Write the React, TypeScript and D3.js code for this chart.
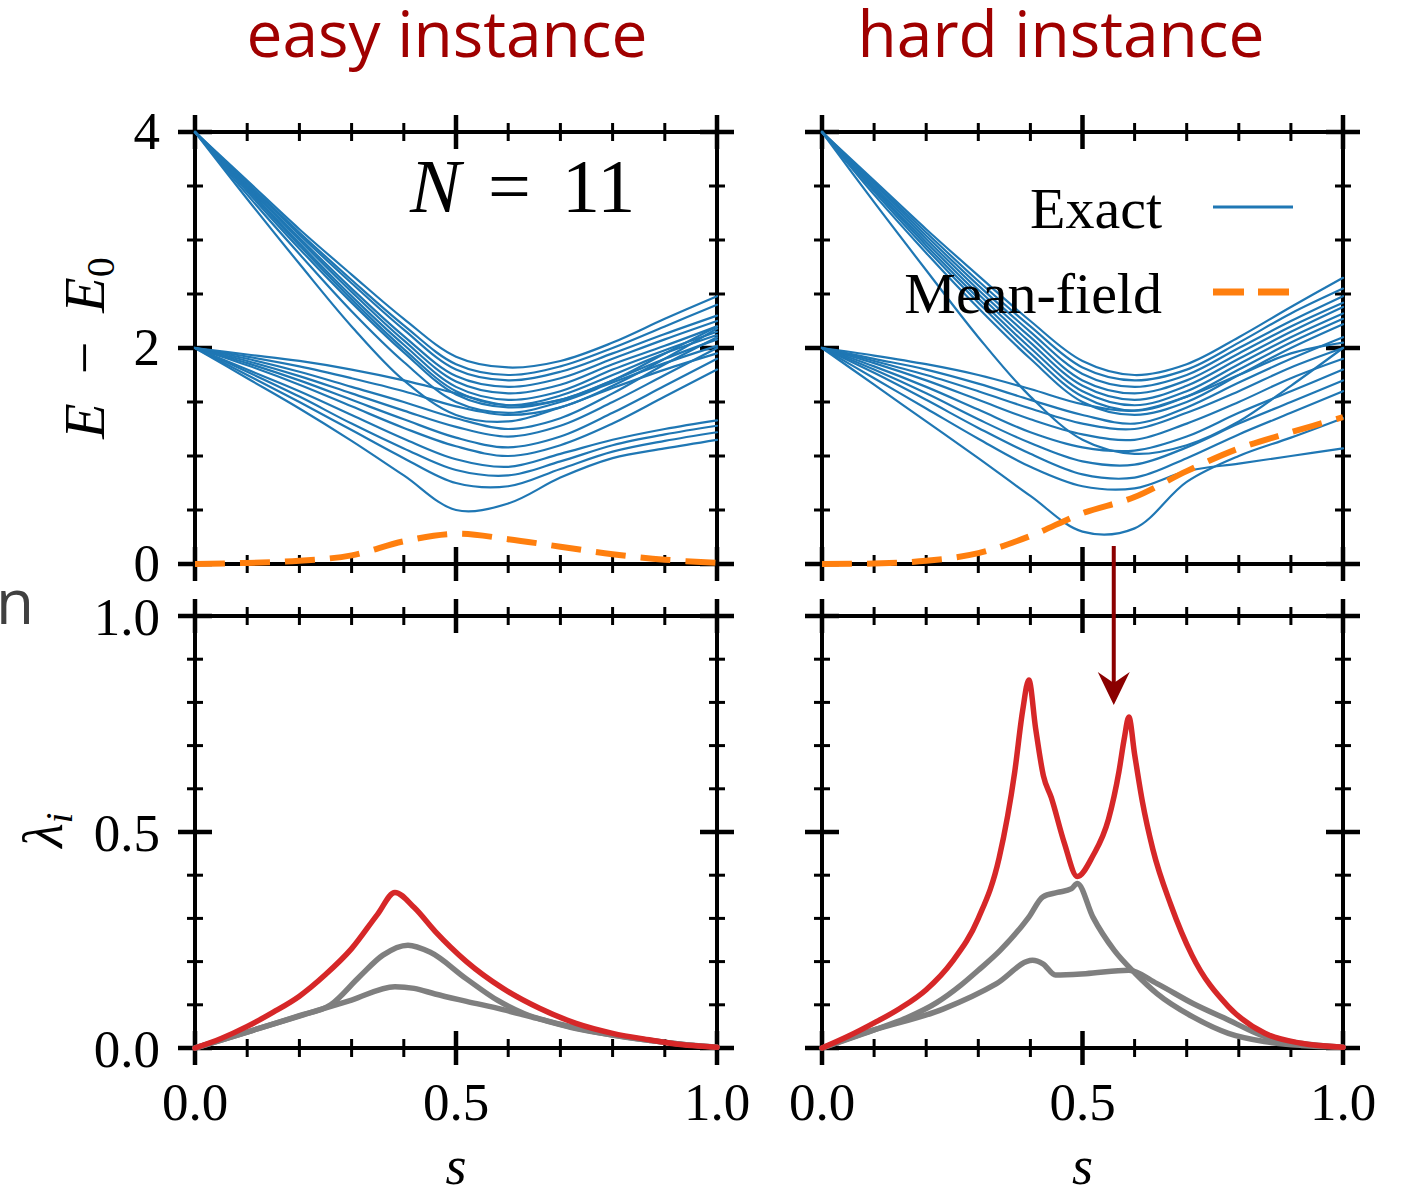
import React, { useEffect, useRef } from "react";
import * as d3 from "d3";

// energy spectra, sampled on sGrid
const sGrid = [0, 0.1, 0.2, 0.3, 0.4, 0.5, 0.6, 0.7, 0.8, 0.9, 1.0];

const easyUpper = [
  [4, 3.55, 3.1, 2.68, 2.27, 1.92, 1.82, 1.88, 2.05, 2.27, 2.48],
  [4, 3.53, 3.07, 2.63, 2.21, 1.85, 1.75, 1.83, 2.0, 2.2, 2.4],
  [4, 3.52, 3.05, 2.6, 2.17, 1.8, 1.7, 1.78, 1.95, 2.13, 2.3],
  [4, 3.5, 3.02, 2.55, 2.11, 1.74, 1.64, 1.72, 1.9, 2.08, 2.25],
  [4, 3.5, 3.0, 2.52, 2.07, 1.69, 1.58, 1.66, 1.85, 2.02, 2.2],
  [4, 3.48, 2.97, 2.48, 2.03, 1.64, 1.52, 1.6, 1.8, 1.98, 2.15],
  [4, 3.47, 2.95, 2.45, 1.99, 1.6, 1.47, 1.56, 1.75, 1.95, 2.12],
  [4, 3.45, 2.92, 2.42, 1.96, 1.57, 1.45, 1.52, 1.7, 1.9, 2.08],
  [4, 3.42, 2.87, 2.34, 1.87, 1.5, 1.4, 1.5, 1.68, 1.86, 2.02],
  [4, 3.38, 2.78, 2.2, 1.7, 1.38, 1.32, 1.45, 1.63, 1.8, 1.95],
];

const easyLower = [
  [2, 1.72, 1.44, 1.14, 0.82, 0.5, 0.56, 0.8, 0.98, 1.07, 1.15],
  [2, 1.75, 1.5, 1.24, 0.98, 0.75, 0.72, 0.88, 1.04, 1.14, 1.22],
  [2, 1.78, 1.55, 1.3, 1.07, 0.87, 0.82, 0.95, 1.1, 1.2, 1.28],
  [2, 1.8, 1.6, 1.38, 1.16, 0.97, 0.9, 1.02, 1.15, 1.25, 1.33],
  [2, 1.84, 1.66, 1.46, 1.26, 1.09, 1.0, 1.1, 1.3, 1.55, 1.8],
  [2, 1.86, 1.7, 1.52, 1.34, 1.17, 1.08, 1.18, 1.4, 1.65, 1.9],
  [2, 1.88, 1.74, 1.58, 1.42, 1.27, 1.18, 1.28, 1.5, 1.75, 2.0],
  [2, 1.9, 1.78, 1.64, 1.5, 1.35, 1.25, 1.35, 1.58, 1.85, 2.1],
  [2, 1.92, 1.83, 1.72, 1.6, 1.46, 1.38, 1.45, 1.65, 1.9, 2.18],
  [2, 1.94, 1.88, 1.8, 1.7, 1.58, 1.47, 1.52, 1.7, 1.95, 2.2],
];

const easyMeanField = [0, 0.01, 0.03, 0.08, 0.21, 0.28, 0.23, 0.16, 0.09, 0.04, 0.01];

const hardUpper = [
  [4, 3.55, 3.1, 2.67, 2.25, 1.88, 1.75, 1.85, 2.1, 2.38, 2.65],
  [4, 3.53, 3.07, 2.62, 2.2, 1.82, 1.7, 1.8, 2.05, 2.32, 2.55],
  [4, 3.52, 3.04, 2.58, 2.15, 1.76, 1.64, 1.75, 2.0, 2.25, 2.48],
  [4, 3.5, 3.01, 2.54, 2.1, 1.7, 1.58, 1.7, 1.95, 2.2, 2.42],
  [4, 3.48, 2.98, 2.5, 2.05, 1.65, 1.52, 1.65, 1.9, 2.15, 2.38],
  [4, 3.47, 2.95, 2.46, 2.0, 1.6, 1.47, 1.6, 1.85, 2.1, 2.32],
  [4, 3.45, 2.92, 2.42, 1.95, 1.55, 1.42, 1.55, 1.8, 2.05, 2.27],
  [4, 3.42, 2.88, 2.37, 1.9, 1.5, 1.38, 1.5, 1.75, 2.0, 2.22],
  [4, 3.35, 2.72, 2.1, 1.55, 1.15, 1.02, 1.1, 1.32, 1.65, 2.0],
];

const hardLower = [
  [2, 1.66, 1.32, 0.98, 0.63, 0.3, 0.33, 0.76, 1.0, 1.17, 1.35],
  [2, 1.72, 1.44, 1.16, 0.9, 0.72, 0.7, 0.86, 0.93, 1.0, 1.07],
  [2, 1.77, 1.52, 1.26, 1.02, 0.83, 0.8, 0.98, 1.2, 1.4, 1.6],
  [2, 1.8, 1.58, 1.34, 1.12, 0.95, 0.92, 1.08, 1.3, 1.5, 1.7],
  [2, 1.83, 1.64, 1.43, 1.22, 1.08, 1.05, 1.18, 1.4, 1.6, 1.8],
  [2, 1.86, 1.7, 1.52, 1.34, 1.2, 1.15, 1.3, 1.5, 1.72, 1.9],
  [2, 1.88, 1.75, 1.6, 1.44, 1.3, 1.25, 1.4, 1.6, 1.82, 2.0],
  [2, 1.9, 1.8, 1.67, 1.52, 1.38, 1.3, 1.45, 1.68, 1.9, 2.1],
  [2, 1.93, 1.85, 1.75, 1.62, 1.48, 1.42, 1.55, 1.75, 1.95, 2.05],
];

const hardMeanField = [0, 0.005, 0.03, 0.1, 0.26, 0.47, 0.62, 0.86, 1.07, 1.22, 1.36];

// eigenvalues lambda_i, each with its own s samples
const easyRedS = [0, 0.05, 0.1, 0.15, 0.2, 0.25, 0.3, 0.35, 0.383, 0.42, 0.46, 0.52, 0.59, 0.66, 0.73, 0.8, 0.87, 0.93, 1];
const easyRed = [0, 0.022, 0.05, 0.083, 0.12, 0.17, 0.23, 0.31, 0.36, 0.325, 0.27, 0.2, 0.138, 0.092, 0.057, 0.034, 0.019, 0.008, 0.002];
const easyGrayAS = [0, 0.1, 0.2, 0.26, 0.315, 0.36, 0.408, 0.45, 0.52, 0.58, 0.63, 0.7, 0.8, 0.9, 1];
const easyGrayA = [0, 0.037, 0.075, 0.1, 0.165, 0.215, 0.238, 0.222, 0.16, 0.11, 0.08, 0.055, 0.03, 0.013, 0.002];
const easyGrayBS = [0, 0.1, 0.2, 0.3, 0.383, 0.42, 0.46, 0.52, 0.59, 0.66, 0.73, 0.8, 0.87, 0.93, 1];
const easyGrayB = [0, 0.037, 0.074, 0.111, 0.142, 0.138, 0.125, 0.108, 0.089, 0.067, 0.045, 0.03, 0.018, 0.009, 0.002];

const hardRedS = [0, 0.05, 0.1, 0.15, 0.2, 0.25, 0.3, 0.34, 0.37, 0.385, 0.397, 0.41, 0.425, 0.44, 0.465, 0.49, 0.52, 0.55, 0.57, 0.58, 0.589, 0.6, 0.615, 0.635, 0.67, 0.71, 0.78, 0.85, 0.92, 1];
const hardRed = [0, 0.027, 0.058, 0.092, 0.135, 0.2, 0.3, 0.44, 0.64, 0.78, 0.852, 0.74, 0.63, 0.58, 0.475, 0.397, 0.445, 0.53, 0.64, 0.715, 0.766, 0.68, 0.57, 0.46, 0.33, 0.215, 0.096, 0.034, 0.011, 0.002];
const hardGrayAS = [0, 0.1, 0.163, 0.22, 0.266, 0.3, 0.342, 0.397, 0.424, 0.452, 0.479, 0.49, 0.52, 0.561, 0.602, 0.643, 0.712, 0.78, 0.849, 0.92, 1];
const hardGrayA = [0, 0.042, 0.07, 0.105, 0.145, 0.18, 0.226, 0.303, 0.35, 0.36, 0.369, 0.381, 0.303, 0.226, 0.172, 0.126, 0.072, 0.034, 0.015, 0.006, 0.002];
const hardGrayBS = [0, 0.095, 0.232, 0.335, 0.404, 0.424, 0.448, 0.506, 0.589, 0.643, 0.712, 0.78, 0.849, 0.917, 1];
const hardGrayB = [0, 0.04, 0.09, 0.149, 0.203, 0.195, 0.169, 0.172, 0.18, 0.149, 0.103, 0.065, 0.027, 0.011, 0.002];

const xTickLabels = ["0.0", "0.5", "1.0"];
const energyTickLabels = ["0", "2", "4"];
const lambdaTickLabels = ["0.0", "0.5", "1.0"];

const BLUE = "#1f77b4";
const ORANGE = "#ff7f0e";
const RED = "#d62728";
const GRAY = "#7f7f7f";
const TITLE = "#a00000";
const SERIF = "'Liberation Serif', 'Times New Roman', serif";
const SANS = "'Open Sans', 'Noto Sans', sans-serif";

const App = () => {
  const chart = useRef<SVGSVGElement>(null);

  useEffect(() => {
    const svg = d3.select(chart.current);
    svg.selectAll("*").remove();

    const xLeft = d3.scaleLinear().domain([0, 1]).range([195, 717]);
    const xRight = d3.scaleLinear().domain([0, 1]).range([822, 1343]);
    const yEnergy = d3.scaleLinear().domain([0, 4]).range([564, 132]);
    const yLambda = d3.scaleLinear().domain([0, 1]).range([1048, 616]);

    const xMinor = d3.range(0, 1.0001, 0.1);
    const xMajor = [0, 0.5, 1];

    // box with inout ticks on all four sides
    const frame = (x, y, yMinor, yMajor) => {
      const g = svg.append("g");
      const [x0, x1] = x.range();
      const [y0, y1] = y.range();
      const isMajor = (v, majors) => majors.some((m) => Math.abs(m - v) < 1e-6);
      xMinor.forEach((v) => {
        const big = isMajor(v, xMajor);
        const h = big ? 17 : 9;
        [y0, y1].forEach((yy) => {
          g.append("line")
            .attr("x1", x(v)).attr("x2", x(v))
            .attr("y1", yy - h).attr("y2", yy + h)
            .attr("stroke", "#000").attr("stroke-width", big ? 4.5 : 3);
        });
      });
      yMinor.forEach((v) => {
        const big = isMajor(v, yMajor);
        const h = big ? 17 : 8;
        [x0, x1].forEach((xx) => {
          g.append("line")
            .attr("y1", y(v)).attr("y2", y(v))
            .attr("x1", xx - h).attr("x2", xx + h)
            .attr("stroke", "#000").attr("stroke-width", big ? 4.5 : 3);
        });
      });
      g.append("rect")
        .attr("x", x0).attr("y", y1)
        .attr("width", x1 - x0).attr("height", y0 - y1)
        .attr("fill", "none").attr("stroke", "#000").attr("stroke-width", 4);
    };

    const drawLine = (x, y, xs, ys, color, width, curve, dash?) => {
      const line = d3
        .line<number>()
        .x((d, i) => x(xs[i]))
        .y((d) => y(d))
        .curve(curve);
      const p = svg.append("path")
        .attr("d", line(ys))
        .attr("fill", "none")
        .attr("stroke", color)
        .attr("stroke-width", width)
        .attr("stroke-linejoin", "round")
        .attr("stroke-linecap", dash ? "butt" : "round");
      if (dash) p.attr("stroke-dasharray", dash);
    };

    const smooth = d3.curveCatmullRom.alpha(0.5);
    const eMinor = d3.range(0, 4.0001, 0.5);
    const lMinor = d3.range(0, 1.0001, 0.1);

    frame(xLeft, yEnergy, eMinor, [0, 2, 4]);
    frame(xRight, yEnergy, eMinor, [0, 2, 4]);
    frame(xLeft, yLambda, lMinor, [0, 0.5, 1]);
    frame(xRight, yLambda, lMinor, [0, 0.5, 1]);

    // energy levels
    [...easyUpper, ...easyLower].forEach((ys) => drawLine(xLeft, yEnergy, sGrid, ys, BLUE, 2.2, smooth));
    drawLine(xLeft, yEnergy, sGrid, easyMeanField, ORANGE, 6, smooth, "30 15");
    [...hardUpper, ...hardLower].forEach((ys) => drawLine(xRight, yEnergy, sGrid, ys, BLUE, 2.2, smooth));
    drawLine(xRight, yEnergy, sGrid, hardMeanField, ORANGE, 6, smooth, "30 15");

    // lambda_i
    const mono = d3.curveMonotoneX;
    drawLine(xLeft, yLambda, easyGrayBS, easyGrayB, GRAY, 5.5, mono);
    drawLine(xLeft, yLambda, easyGrayAS, easyGrayA, GRAY, 5.5, mono);
    drawLine(xLeft, yLambda, easyRedS, easyRed, RED, 5.5, mono);
    drawLine(xRight, yLambda, hardGrayBS, hardGrayB, GRAY, 5.5, mono);
    drawLine(xRight, yLambda, hardGrayAS, hardGrayA, GRAY, 5.5, mono);
    drawLine(xRight, yLambda, hardRedS, hardRed, RED, 5.5, mono);

    // tick labels
    const tickText = (x, y, txt, anchor) =>
      svg.append("text")
        .attr("x", x).attr("y", y)
        .attr("text-anchor", anchor)
        .attr("font-family", SERIF)
        .attr("font-size", 53)
        .attr("fill", "#000")
        .text(txt);

    [0, 2, 4].forEach((v, i) => tickText(160, yEnergy(v) + 17, energyTickLabels[i], "end"));
    [0, 0.5, 1].forEach((v, i) => tickText(160, yLambda(v) + 19, lambdaTickLabels[i], "end"));
    xMajor.forEach((v, i) => {
      tickText(xLeft(v), 1120, xTickLabels[i], "middle");
      tickText(xRight(v), 1120, xTickLabels[i], "middle");
    });

    // axis labels
    [xLeft, xRight].forEach((x) => {
      svg.append("text")
        .attr("x", x(0.5)).attr("y", 1184)
        .attr("text-anchor", "middle")
        .attr("font-family", SERIF).attr("font-style", "italic")
        .attr("font-size", 54)
        .text("s");
    });

    const eLabel = svg.append("text")
      .attr("transform", "translate(104,348) rotate(-90)")
      .attr("text-anchor", "middle")
      .attr("font-family", SERIF)
      .attr("font-size", 58);
    eLabel.append("tspan").attr("font-style", "italic").text("E");
    eLabel.append("tspan").text("\u2002\u2212\u2002");
    eLabel.append("tspan").attr("font-style", "italic").text("E");
    eLabel.append("tspan").attr("font-size", 40).attr("dy", 10).text("0");

    const lLabel = svg.append("text")
      .attr("transform", "translate(62,830) rotate(-90)")
      .attr("text-anchor", "middle")
      .attr("font-family", SERIF)
      .attr("font-size", 56);
    lLabel.append("tspan").attr("font-style", "italic").text("\u03bb");
    lLabel.append("tspan").attr("font-style", "italic").attr("font-size", 38).attr("dy", 10).text("i");

    // N = 11
    const nParts = [
      { t: "N", x: 410, italic: true },
      { t: "=", x: 488, italic: false },
      { t: "11", x: 562, italic: false },
    ];
    nParts.forEach((d) => {
      svg.append("text")
        .attr("x", d.x).attr("y", 212)
        .attr("font-family", SERIF)
        .attr("font-style", d.italic ? "italic" : "normal")
        .attr("font-size", 76)
        .text(d.t);
    });

    // legend
    const legend = [
      { label: "Exact", color: BLUE, width: 3, dash: null, y: 207 },
      { label: "Mean-field", color: ORANGE, width: 7, dash: "31 14", y: 292 },
    ];
    legend.forEach((d) => {
      svg.append("text")
        .attr("x", 1162).attr("y", d.y + 21)
        .attr("text-anchor", "end")
        .attr("font-family", SERIF)
        .attr("font-size", 58)
        .text(d.label);
      const l = svg.append("line")
        .attr("x1", 1213).attr("x2", 1293)
        .attr("y1", d.y).attr("y2", d.y)
        .attr("stroke", d.color).attr("stroke-width", d.width);
      if (d.dash) l.attr("stroke-dasharray", d.dash);
    });

    // titles
    [
      { t: "easy instance", x: 447 },
      { t: "hard instance", x: 1061 },
    ].forEach((d) => {
      svg.append("text")
        .attr("x", d.x).attr("y", 57)
        .attr("text-anchor", "middle")
        .attr("font-family", SANS)
        .attr("font-size", 64)
        .attr("fill", TITLE)
        .text(d.t);
    });

    // stray letter from the neighbouring slide
    svg.append("text")
      .attr("x", -4).attr("y", 624)
      .attr("font-family", SANS)
      .attr("font-size", 62)
      .attr("fill", "#404040")
      .text("n");

    // arrow from the gap minimum down to the lambda plot
    const ax = xRight(0.56);
    svg.append("line")
      .attr("x1", ax).attr("x2", ax)
      .attr("y1", 546).attr("y2", 690)
      .attr("stroke", "#8b0000").attr("stroke-width", 4);
    svg.append("path")
      .attr("d", `M${ax},705 L${ax - 16},672 L${ax},683 L${ax + 16},672 Z`)
      .attr("fill", "#8b0000");
  }, []);

  return (
    <div>
      <style>{"body{margin:0}"}</style>
      <svg ref={chart} width={1406} height={1195} style={{ display: "block" }}></svg>
    </div>
  );
};

export default App;
